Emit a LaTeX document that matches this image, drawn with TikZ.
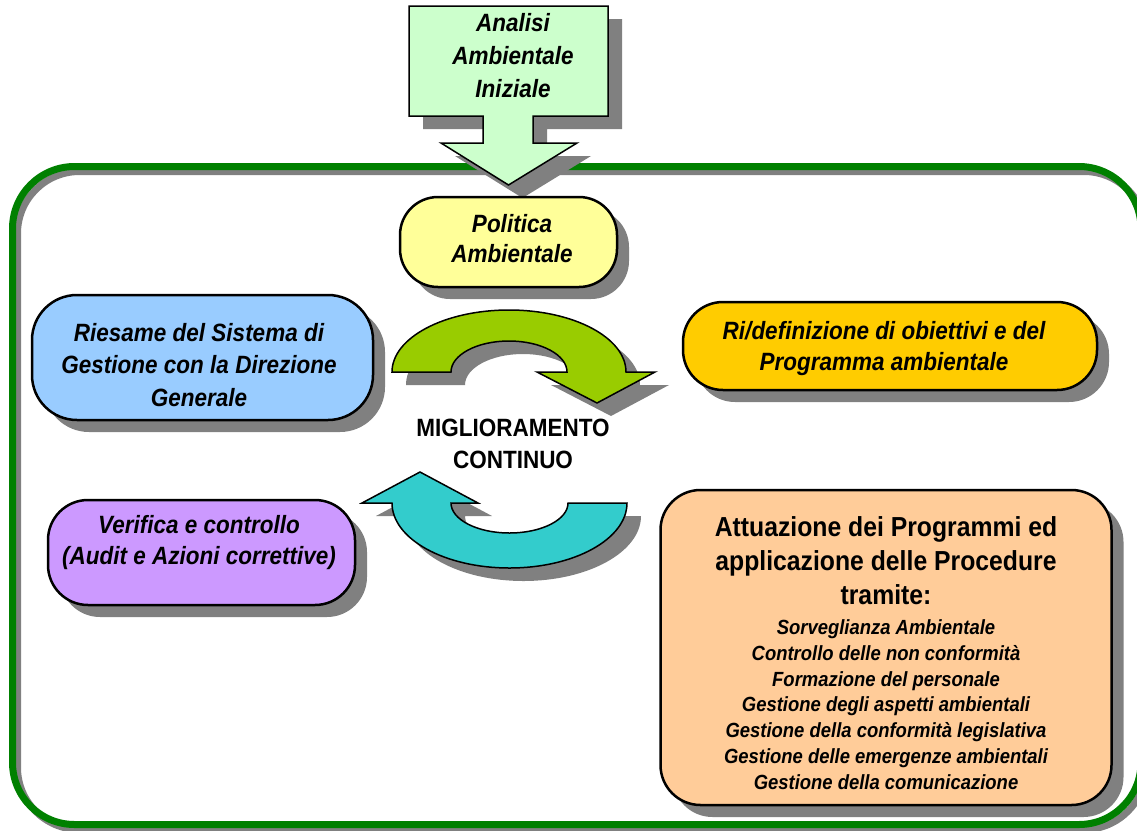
\documentclass[tikz,border=0pt]{standalone}
\usepackage{fontspec}
\setmainfont{Liberation Sans}[FakeStretch=0.9]
\usetikzlibrary{shadows}
\definecolor{lgreen}{HTML}{CCFFCC}
\definecolor{lyellow}{HTML}{FFFF99}
\definecolor{lblue}{HTML}{99CCFF}
\definecolor{gold}{HTML}{FFCC00}
\definecolor{lviolet}{HTML}{CC99FF}
\definecolor{peach}{HTML}{FFCC99}
\definecolor{agreen}{HTML}{99CC00}
\definecolor{acyan}{HTML}{33CCCC}
\definecolor{frameg}{HTML}{008000}
\definecolor{shadowgray}{HTML}{808080}
\newcommand\bifont[2]{\fontsize{#1}{#2}\selectfont\bfseries\itshape}
\newcommand\bsfont[2]{\fontsize{#1}{#2}\selectfont\bfseries}
\begin{document}
\begin{tikzpicture}[x=1pt,y=-1pt,
  bshad/.style={drop shadow={shadow xshift=12pt, shadow yshift=-12pt, fill=shadowgray, opacity=1}},
  ashad/.style={drop shadow={shadow xshift=14pt, shadow yshift=-13pt, fill=shadowgray, opacity=1}},
  rbox/.style={draw=black, line width=2.5pt, bshad, inner sep=0pt},
  arrowshape/.style={draw=black, line width=1.5pt, line join=miter, ashad},
  txt/.style={align=center, inner sep=0pt, text=black}
]
\useasboundingbox (0,0) rectangle (1137,830);
% outer frame
\draw[shadowgray, line width=7pt, rounded corners=62pt] (17.5,171.5) rectangle (1146,829.5);
\draw[frameg, line width=7pt, rounded corners=62pt] (12.5,166.5) rectangle (1141,824.5);
% top arrow
\draw[arrowshape, fill=lgreen] (409,6) -- (608,6) -- (608,116) -- (533,116) -- (533,143) -- (577,143) -- (508.5,185) -- (441,143) -- (483,143) -- (483,116) -- (409,116) -- cycle;
\node[txt, font=\bifont{25}{33}] (analisi) at (513,56) {Analisi\\Ambientale\\Iniziale};
% boxes
\node[rbox, fill=lyellow, rounded corners=38pt, minimum width=217pt, minimum height=90pt] (politica) at (508.5,242) {};
\node[txt, font=\bifont{25}{30}] (politicaT) at (512,239) {Politica\\Ambientale};
\node[rbox, fill=lblue, rounded corners=45pt, minimum width=341pt, minimum height=125pt] (riesame) at (202.5,357.5) {};
\node[txt, font=\bifont{25}{32.5}] (riesameT) at (199,365) {Riesame del Sistema di\\Gestione con la Direzione\\Generale};
\node[rbox, fill=gold, rounded corners=40pt, minimum width=414pt, minimum height=88pt] (ridef) at (890,346) {};
\node[txt, font=\bifont{25}{31}] (ridefT) at (884,349) {Ri/definizione di obiettivi e del\\Programma ambientale};
\node[rbox, fill=lviolet, rounded corners=40pt, minimum width=307pt, minimum height=105pt] (verifica) at (201.5,552.5) {};
\node[txt, font=\bifont{25}{31}] (verificaT) at (199,543) {Verifica e controllo\\(Audit e Azioni correttive)};
\node[rbox, fill=peach, rounded corners=40pt, minimum width=451pt, minimum height=315pt] (attuazione) at (886,647.5) {};
\node[inner sep=0pt, anchor=north] (attuazioneT) at (886,516) {\parbox{440pt}{\centering
\bsfont{27.5}{34}Attuazione dei Programmi ed\\applicazione delle Procedure\\tramite:\par\vspace{5pt}
\bifont{20.5}{25.7}Sorveglianza Ambientale\\Controllo delle non conformità\\Formazione del personale\\Gestione degli aspetti ambientali\\Gestione della conformità legislativa\\Gestione delle emergenze ambientali\\Gestione della comunicazione\par}};
% curved arrows
\draw[arrowshape, fill=agreen] (392,372) arc[start angle=180, end angle=0, x radius=117pt, y radius=62pt] -- (655,372) -- (597,403) -- (537,372) -- (567,372) arc[start angle=0, end angle=180, x radius=58pt, y radius=31pt] -- cycle;
\draw[arrowshape, fill=acyan] (627,503) arc[start angle=0, end angle=-180, x radius=117.5pt, y radius=65pt] -- (362,503) -- (420,472) -- (478,503) -- (451,503) arc[start angle=180, end angle=360, x radius=58.5pt, y radius=30pt] -- cycle;
\node[txt, font=\bsfont{25}{32}] (miglior) at (513,444) {MIGLIORAMENTO\\CONTINUO};
\end{tikzpicture}
\end{document}
